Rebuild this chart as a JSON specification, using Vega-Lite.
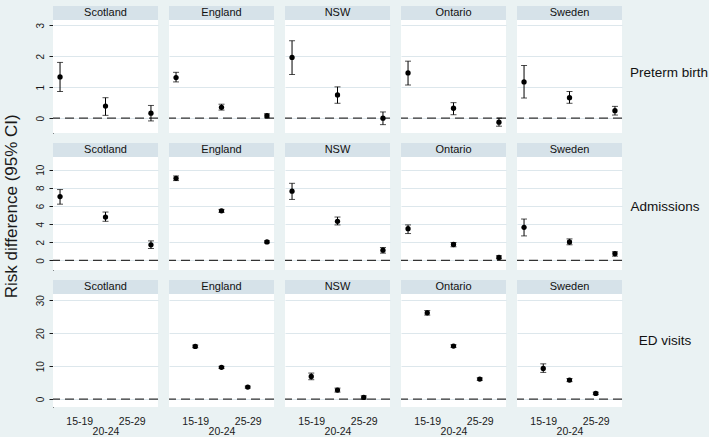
{
  "$schema": "https://vega.github.io/schema/vega-lite/v6.json",
  "background": "#eaf2f3",
  "padding": {"left": 2, "top": 6, "right": 0, "bottom": 0},
  "title": {"text": "Risk difference (95% CI)", "orient": "left", "anchor": "middle", "fontSize": 17, "fontWeight": "normal", "color": "#1a1a1a", "font": "Liberation Sans", "offset": 14, "dx": 15},
  "config": {
    "font": "Liberation Sans",
    "view": {"stroke": null},
    "axisY": {"domainColor": "#1a1a1a", "tickColor": "#1a1a1a", "tickSize": 4, "labelAngle": -90, "labelFontSize": 10, "labelColor": "#1a1a1a", "labelPadding": 4, "labelOverlap": false, "labelFlush": false, "grid": true, "gridColor": "#dde7ec"},
    "axisX": {"ticks": false, "domain": false, "grid": false, "labelFontSize": 10.5, "labelColor": "#1a1a1a", "labelPadding": 9, "labelAngle": 0, "labelOverlap": false, "labelFlush": false, "labelLineHeight": 10}
  },
  "datasets": {
    "outcomes": [
      {"outcome": "Preterm birth"},
      {"outcome": "Admissions"},
      {"outcome": "ED visits"}
    ],
    "rd": [
      {"outcome": "Preterm birth", "country": "Scotland", "age": "15-19", "est": 1.33, "lo": 0.86, "hi": 1.80},
      {"outcome": "Preterm birth", "country": "Scotland", "age": "20-24", "est": 0.39, "lo": 0.09, "hi": 0.66},
      {"outcome": "Preterm birth", "country": "Scotland", "age": "25-29", "est": 0.16, "lo": -0.09, "hi": 0.41},
      {"outcome": "Preterm birth", "country": "England", "age": "15-19", "est": 1.31, "lo": 1.17, "hi": 1.48},
      {"outcome": "Preterm birth", "country": "England", "age": "20-24", "est": 0.35, "lo": 0.26, "hi": 0.45},
      {"outcome": "Preterm birth", "country": "England", "age": "25-29", "est": 0.08, "lo": 0.01, "hi": 0.14},
      {"outcome": "Preterm birth", "country": "NSW", "age": "15-19", "est": 1.96, "lo": 1.41, "hi": 2.50},
      {"outcome": "Preterm birth", "country": "NSW", "age": "20-24", "est": 0.75, "lo": 0.48, "hi": 1.01},
      {"outcome": "Preterm birth", "country": "NSW", "age": "25-29", "est": 0.00, "lo": -0.21, "hi": 0.20},
      {"outcome": "Preterm birth", "country": "Ontario", "age": "15-19", "est": 1.46, "lo": 1.07, "hi": 1.84},
      {"outcome": "Preterm birth", "country": "Ontario", "age": "20-24", "est": 0.32, "lo": 0.11, "hi": 0.50},
      {"outcome": "Preterm birth", "country": "Ontario", "age": "25-29", "est": -0.13, "lo": -0.26, "hi": 0.00},
      {"outcome": "Preterm birth", "country": "Sweden", "age": "15-19", "est": 1.17, "lo": 0.65, "hi": 1.70},
      {"outcome": "Preterm birth", "country": "Sweden", "age": "20-24", "est": 0.66, "lo": 0.48, "hi": 0.86},
      {"outcome": "Preterm birth", "country": "Sweden", "age": "25-29", "est": 0.24, "lo": 0.10, "hi": 0.38},
      {"outcome": "Admissions", "country": "Scotland", "age": "15-19", "est": 7.04, "lo": 6.20, "hi": 7.81},
      {"outcome": "Admissions", "country": "Scotland", "age": "20-24", "est": 4.78, "lo": 4.31, "hi": 5.33},
      {"outcome": "Admissions", "country": "Scotland", "age": "25-29", "est": 1.72, "lo": 1.31, "hi": 2.15},
      {"outcome": "Admissions", "country": "England", "age": "15-19", "est": 9.05, "lo": 8.80, "hi": 9.31},
      {"outcome": "Admissions", "country": "England", "age": "20-24", "est": 5.47, "lo": 5.29, "hi": 5.62},
      {"outcome": "Admissions", "country": "England", "age": "25-29", "est": 2.04, "lo": 1.93, "hi": 2.15},
      {"outcome": "Admissions", "country": "NSW", "age": "15-19", "est": 7.63, "lo": 6.72, "hi": 8.50},
      {"outcome": "Admissions", "country": "NSW", "age": "20-24", "est": 4.31, "lo": 3.91, "hi": 4.78},
      {"outcome": "Admissions", "country": "NSW", "age": "25-29", "est": 1.13, "lo": 0.80, "hi": 1.42},
      {"outcome": "Admissions", "country": "Ontario", "age": "15-19", "est": 3.50, "lo": 2.96, "hi": 3.91},
      {"outcome": "Admissions", "country": "Ontario", "age": "20-24", "est": 1.75, "lo": 1.50, "hi": 1.97},
      {"outcome": "Admissions", "country": "Ontario", "age": "25-29", "est": 0.33, "lo": 0.18, "hi": 0.51},
      {"outcome": "Admissions", "country": "Sweden", "age": "15-19", "est": 3.65, "lo": 2.70, "hi": 4.56},
      {"outcome": "Admissions", "country": "Sweden", "age": "20-24", "est": 2.04, "lo": 1.72, "hi": 2.37},
      {"outcome": "Admissions", "country": "Sweden", "age": "25-29", "est": 0.73, "lo": 0.47, "hi": 0.95},
      {"outcome": "ED visits", "country": "Scotland", "age": "15-19", "est": null, "lo": null, "hi": null},
      {"outcome": "ED visits", "country": "England", "age": "15-19", "est": 16.0, "lo": 15.6, "hi": 16.4},
      {"outcome": "ED visits", "country": "England", "age": "20-24", "est": 9.63, "lo": 9.3, "hi": 9.95},
      {"outcome": "ED visits", "country": "England", "age": "25-29", "est": 3.65, "lo": 3.35, "hi": 3.95},
      {"outcome": "ED visits", "country": "NSW", "age": "15-19", "est": 6.89, "lo": 5.88, "hi": 7.90},
      {"outcome": "ED visits", "country": "NSW", "age": "20-24", "est": 2.74, "lo": 2.13, "hi": 3.34},
      {"outcome": "ED visits", "country": "NSW", "age": "25-29", "est": 0.51, "lo": 0.0, "hi": 1.0},
      {"outcome": "ED visits", "country": "Ontario", "age": "15-19", "est": 26.2, "lo": 25.5, "hi": 26.9},
      {"outcome": "ED visits", "country": "Ontario", "age": "20-24", "est": 16.1, "lo": 15.7, "hi": 16.5},
      {"outcome": "ED visits", "country": "Ontario", "age": "25-29", "est": 6.08, "lo": 5.7, "hi": 6.45},
      {"outcome": "ED visits", "country": "Sweden", "age": "15-19", "est": 9.32, "lo": 8.1, "hi": 10.7},
      {"outcome": "ED visits", "country": "Sweden", "age": "20-24", "est": 5.78, "lo": 5.3, "hi": 6.25},
      {"outcome": "ED visits", "country": "Sweden", "age": "25-29", "est": 1.72, "lo": 1.35, "hi": 2.1}
    ]
  },
  "spacing": 10,
  "vconcat": [
    {
      "spacing": 6,
      "hconcat": [
        {
          "spacing": 0,
          "vconcat": [
            {
              "data": {"name": "rd"},
              "transform": [{"filter": "datum.outcome == 'Preterm birth' && datum.age == '15-19'"}],
              "facet": {"column": {"field": "country", "type": "nominal", "sort": ["Scotland", "England", "NSW", "Ontario", "Sweden"], "header": null}},
              "spacing": 11,
              "bounds": "flush",
              "spec": {
                "width": 105, "height": 14,
                "view": {"fill": "#d6e2e9", "stroke": null},
                "mark": {"type": "text", "fontSize": 11, "color": "#111111", "baseline": "middle", "align": "center"},
                "encoding": {"text": {"field": "country", "type": "nominal"}}
              }
            },
            {
              "data": {"name": "rd"},
              "transform": [{"filter": "datum.outcome == 'Preterm birth'"}],
              "facet": {"column": {"field": "country", "type": "nominal", "sort": ["Scotland", "England", "NSW", "Ontario", "Sweden"], "header": null}},
              "spacing": 11,
              "bounds": "flush",
              "spec": {
                "width": 105, "height": 113,
                "view": {"fill": "white", "stroke": null},
                "layer": [
                  {"transform": [{"filter": "datum.age == '15-19'"}], "mark": {"type": "rule", "color": "#333333", "strokeWidth": 1.2, "strokeDash": [9, 5]}, "encoding": {"y": {"datum": 0, "type": "quantitative", "axis": {"values": [0, 1, 2, 3], "labelOverlap": false}}}},
                  {"mark": {"type": "rule", "color": "black", "strokeWidth": 1}, "encoding": {
                    "x": {"field": "age", "type": "ordinal", "scale": {"type": "point", "padding": 0.155}, "axis": null},
                    "y": {"field": "lo", "type": "quantitative", "title": null, "scale": {"domain": [-0.48, 3.17], "nice": false, "zero": false}, "axis": {"values": [0, 1, 2, 3], "labelOverlap": false}},
                    "y2": {"field": "hi"}}},
                  {"mark": {"type": "tick", "orient": "horizontal", "size": 6, "thickness": 1, "color": "black"}, "encoding": {
                    "x": {"field": "age", "type": "ordinal", "scale": {"type": "point", "padding": 0.155}, "axis": null},
                    "y": {"field": "hi", "type": "quantitative", "title": null, "axis": {"values": [0, 1, 2, 3], "labelOverlap": false}}}},
                  {"mark": {"type": "tick", "orient": "horizontal", "size": 6, "thickness": 1, "color": "black"}, "encoding": {
                    "x": {"field": "age", "type": "ordinal", "scale": {"type": "point", "padding": 0.155}, "axis": null},
                    "y": {"field": "lo", "type": "quantitative", "title": null, "axis": {"values": [0, 1, 2, 3], "labelOverlap": false}}}},
                  {"mark": {"type": "point", "filled": true, "size": 28, "color": "black", "opacity": 1}, "encoding": {
                    "x": {"field": "age", "type": "ordinal", "scale": {"type": "point", "padding": 0.155}, "axis": null},
                    "y": {"field": "est", "type": "quantitative", "title": null, "axis": {"values": [0, 1, 2, 3], "labelOverlap": false}}}}
                ]
              }
            }
          ]
        },
        {
          "data": {"name": "outcomes"},
          "transform": [{"filter": "datum.outcome == 'Preterm birth'"}],
          "width": 72, "height": 127,
          "mark": {"type": "text", "fontSize": 13.5, "color": "#111111", "align": "center", "baseline": "middle", "dy": 3},
          "encoding": {"text": {"field": "outcome", "type": "nominal"}}
        }
      ]
    },
    {
      "spacing": 6,
      "hconcat": [
        {
          "spacing": 0,
          "vconcat": [
            {
              "data": {"name": "rd"},
              "transform": [{"filter": "datum.outcome == 'Admissions' && datum.age == '15-19'"}],
              "facet": {"column": {"field": "country", "type": "nominal", "sort": ["Scotland", "England", "NSW", "Ontario", "Sweden"], "header": null}},
              "spacing": 11,
              "bounds": "flush",
              "spec": {
                "width": 105, "height": 14,
                "view": {"fill": "#d6e2e9", "stroke": null},
                "mark": {"type": "text", "fontSize": 11, "color": "#111111", "baseline": "middle", "align": "center"},
                "encoding": {"text": {"field": "country", "type": "nominal"}}
              }
            },
            {
              "data": {"name": "rd"},
              "transform": [{"filter": "datum.outcome == 'Admissions'"}],
              "facet": {"column": {"field": "country", "type": "nominal", "sort": ["Scotland", "England", "NSW", "Ontario", "Sweden"], "header": null}},
              "spacing": 11,
              "bounds": "flush",
              "spec": {
                "width": 105, "height": 113,
                "view": {"fill": "white", "stroke": null},
                "layer": [
                  {"transform": [{"filter": "datum.age == '15-19'"}], "mark": {"type": "rule", "color": "#333333", "strokeWidth": 1.2, "strokeDash": [9, 5]}, "encoding": {"y": {"datum": 0, "type": "quantitative", "axis": {"values": [0, 2, 4, 6, 8, 10], "labelOverlap": false}}}},
                  {"mark": {"type": "rule", "color": "black", "strokeWidth": 1}, "encoding": {
                    "x": {"field": "age", "type": "ordinal", "scale": {"type": "point", "padding": 0.155}, "axis": null},
                    "y": {"field": "lo", "type": "quantitative", "title": null, "scale": {"domain": [-1.06, 11.4], "nice": false, "zero": false}, "axis": {"values": [0, 2, 4, 6, 8, 10], "labelOverlap": false}},
                    "y2": {"field": "hi"}}},
                  {"mark": {"type": "tick", "orient": "horizontal", "size": 6, "thickness": 1, "color": "black"}, "encoding": {
                    "x": {"field": "age", "type": "ordinal", "scale": {"type": "point", "padding": 0.155}, "axis": null},
                    "y": {"field": "hi", "type": "quantitative", "title": null, "axis": {"values": [0, 2, 4, 6, 8, 10], "labelOverlap": false}}}},
                  {"mark": {"type": "tick", "orient": "horizontal", "size": 6, "thickness": 1, "color": "black"}, "encoding": {
                    "x": {"field": "age", "type": "ordinal", "scale": {"type": "point", "padding": 0.155}, "axis": null},
                    "y": {"field": "lo", "type": "quantitative", "title": null, "axis": {"values": [0, 2, 4, 6, 8, 10], "labelOverlap": false}}}},
                  {"mark": {"type": "point", "filled": true, "size": 28, "color": "black", "opacity": 1}, "encoding": {
                    "x": {"field": "age", "type": "ordinal", "scale": {"type": "point", "padding": 0.155}, "axis": null},
                    "y": {"field": "est", "type": "quantitative", "title": null, "axis": {"values": [0, 2, 4, 6, 8, 10], "labelOverlap": false}}}}
                ]
              }
            }
          ]
        },
        {
          "data": {"name": "outcomes"},
          "transform": [{"filter": "datum.outcome == 'Admissions'"}],
          "width": 72, "height": 127,
          "mark": {"type": "text", "fontSize": 13.5, "color": "#111111", "align": "center", "baseline": "middle", "dy": 0},
          "encoding": {"text": {"field": "outcome", "type": "nominal"}}
        }
      ]
    },
    {
      "spacing": 6,
      "hconcat": [
        {
          "spacing": 0,
          "vconcat": [
            {
              "data": {"name": "rd"},
              "transform": [{"filter": "datum.outcome == 'ED visits' && datum.age == '15-19'"}],
              "facet": {"column": {"field": "country", "type": "nominal", "sort": ["Scotland", "England", "NSW", "Ontario", "Sweden"], "header": null}},
              "spacing": 11,
              "bounds": "flush",
              "spec": {
                "width": 105, "height": 14,
                "view": {"fill": "#d6e2e9", "stroke": null},
                "mark": {"type": "text", "fontSize": 11, "color": "#111111", "baseline": "middle", "align": "center"},
                "encoding": {"text": {"field": "country", "type": "nominal"}}
              }
            },
            {
              "data": {"name": "rd"},
              "transform": [{"filter": "datum.outcome == 'ED visits'"}],
              "facet": {"column": {"field": "country", "type": "nominal", "sort": ["Scotland", "England", "NSW", "Ontario", "Sweden"], "header": null}},
              "spacing": 11,
              "bounds": "flush",
              "spec": {
                "width": 105, "height": 113,
                "view": {"fill": "white", "stroke": null},
                "layer": [
                  {"transform": [{"filter": "datum.age == '15-19'"}], "mark": {"type": "rule", "color": "#333333", "strokeWidth": 1.2, "strokeDash": [9, 5]}, "encoding": {"y": {"datum": 0, "type": "quantitative", "axis": {"values": [0, 10, 20, 30], "labelOverlap": false}}}},
                  {"mark": {"type": "rule", "color": "black", "strokeWidth": 1}, "encoding": {
                    "x": {"field": "age", "type": "ordinal", "title": null, "scale": {"type": "point", "padding": 1.23}, "axis": {"labelExpr": "datum.label == '20-24' ? ['', '20-24'] : datum.label"}},
                    "y": {"field": "lo", "type": "quantitative", "title": null, "scale": {"domain": [-2.4, 31.9], "nice": false, "zero": false}, "axis": {"values": [0, 10, 20, 30], "labelOverlap": false}},
                    "y2": {"field": "hi"}}},
                  {"mark": {"type": "tick", "orient": "horizontal", "size": 6, "thickness": 1, "color": "black"}, "encoding": {
                    "x": {"field": "age", "type": "ordinal", "title": null, "scale": {"type": "point", "padding": 1.23}, "axis": {"labelExpr": "datum.label == '20-24' ? ['', '20-24'] : datum.label"}},
                    "y": {"field": "hi", "type": "quantitative", "title": null, "axis": {"values": [0, 10, 20, 30], "labelOverlap": false}}}},
                  {"mark": {"type": "tick", "orient": "horizontal", "size": 6, "thickness": 1, "color": "black"}, "encoding": {
                    "x": {"field": "age", "type": "ordinal", "title": null, "scale": {"type": "point", "padding": 1.23}, "axis": {"labelExpr": "datum.label == '20-24' ? ['', '20-24'] : datum.label"}},
                    "y": {"field": "lo", "type": "quantitative", "title": null, "axis": {"values": [0, 10, 20, 30], "labelOverlap": false}}}},
                  {"mark": {"type": "point", "filled": true, "size": 28, "color": "black", "opacity": 1}, "encoding": {
                    "x": {"field": "age", "type": "ordinal", "title": null, "scale": {"type": "point", "padding": 1.23}, "axis": {"labelExpr": "datum.label == '20-24' ? ['', '20-24'] : datum.label"}},
                    "y": {"field": "est", "type": "quantitative", "title": null, "axis": {"values": [0, 10, 20, 30], "labelOverlap": false}}}}
                ]
              }
            }
          ]
        },
        {
          "data": {"name": "outcomes"},
          "transform": [{"filter": "datum.outcome == 'ED visits'"}],
          "width": 72, "height": 127,
          "mark": {"type": "text", "fontSize": 13.5, "color": "#111111", "align": "center", "baseline": "middle", "dy": -3},
          "encoding": {"text": {"field": "outcome", "type": "nominal"}}
        }
      ]
    }
  ]
}
